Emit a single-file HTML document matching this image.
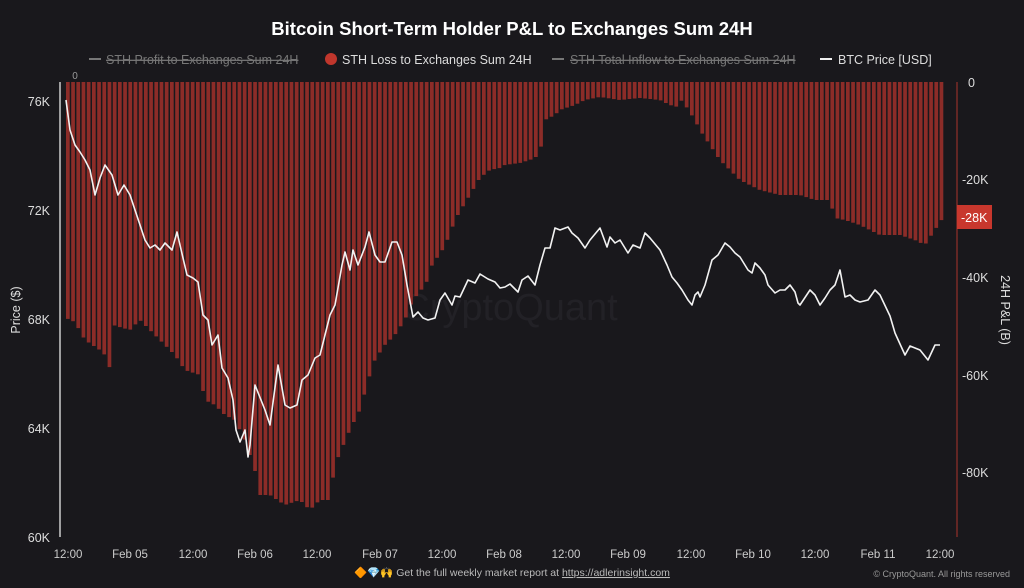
<!DOCTYPE html>
<html><head><meta charset="utf-8"><style>
html,body{margin:0;padding:0;background:#19181c;}
svg{display:block;font-family:"Liberation Sans",sans-serif;}
</style></head><body>
<svg id="s" width="1024" height="588" viewBox="0 0 1024 588" xmlns="http://www.w3.org/2000/svg">
<rect width="1024" height="588" fill="#19181c"/>
<text x="512" y="35" text-anchor="middle" fill="#fff" font-size="18.5" font-weight="bold">Bitcoin Short-Term Holder P&amp;L to Exchanges Sum 24H</text>
<g font-size="12.5">
<line x1="89" y1="59" x2="101" y2="59" stroke="#777" stroke-width="2"/>
<text x="106" y="64" fill="#777" text-decoration="line-through">STH Profit to Exchanges Sum 24H</text>
<circle cx="331" cy="59" r="6" fill="#c0362c"/>
<text x="342" y="64" fill="#ddd">STH Loss to Exchanges Sum 24H</text>
<line x1="552" y1="59" x2="564" y2="59" stroke="#777" stroke-width="2"/>
<text x="570" y="64" fill="#777" text-decoration="line-through">STH Total Inflow to Exchanges Sum 24H</text>
<line x1="820" y1="59" x2="832" y2="59" stroke="#eee" stroke-width="2"/>
<text x="838" y="64" fill="#ddd">BTC Price [USD]</text>
</g>
<text x="75" y="79" fill="#999" font-size="10" text-anchor="middle">0</text>
<text x="510" y="320" fill="#222126" font-size="38" text-anchor="middle">CryptoQuant</text>
<g id="bars"></g>
<line x1="60" y1="82" x2="60" y2="537" stroke="#ccc" stroke-width="1.5"/>
<line x1="957" y1="82" x2="957" y2="537" stroke="#7a2a26" stroke-width="1.5"/>
<g fill="#ddd" font-size="12.5" text-anchor="end">
<text x="50" y="106">76K</text><text x="50" y="215">72K</text><text x="50" y="324">68K</text><text x="50" y="433">64K</text><text x="50" y="542">60K</text>
</g>
<g fill="#ddd" font-size="12.5">
<text x="968" y="87">0</text><text x="962" y="184">-20K</text><text x="962" y="282">-40K</text><text x="962" y="380">-60K</text><text x="962" y="477">-80K</text>
</g>
<rect x="957" y="205" width="35" height="24" fill="#c8372d"/>
<text x="961" y="222" fill="#fff" font-size="12.5">-28K</text>
<text transform="translate(20,310) rotate(-90)" fill="#ddd" font-size="12.5" text-anchor="middle">Price ($)</text>
<text transform="translate(1001,310) rotate(90)" fill="#ddd" font-size="12.5" text-anchor="middle">24H P&amp;L (B)</text>
<g fill="#ccc" font-size="11.5" text-anchor="middle">
<text x="68" y="558">12:00</text><text x="130" y="558">Feb 05</text><text x="193" y="558">12:00</text><text x="255" y="558">Feb 06</text><text x="317" y="558">12:00</text><text x="380" y="558">Feb 07</text><text x="442" y="558">12:00</text><text x="504" y="558">Feb 08</text><text x="566" y="558">12:00</text><text x="628" y="558">Feb 09</text><text x="691" y="558">12:00</text><text x="753" y="558">Feb 10</text><text x="815" y="558">12:00</text><text x="878" y="558">Feb 11</text><text x="940" y="558">12:00</text>
</g>
<text x="512" y="576" fill="#bbb" font-size="10.5" text-anchor="middle">🔶💎🙌 Get the full weekly market report at <tspan text-decoration="underline">https://adlerinsight.com</tspan></text>
<text x="1010" y="577" fill="#999" font-size="9" text-anchor="end">© CryptoQuant. All rights reserved</text>
<polyline id="price" fill="none" stroke="#f2f2f2" stroke-width="1.6" stroke-linejoin="round"/>
</svg>
<script>
var bp=[[66,318],[75,322],[85,340],[100,350],[108,358],[111,375],[113,325],[130,330],[140,320],[150,330],[165,345],[175,355],[185,370],[200,375],[205,400],[215,405],[225,415],[235,420],[245,440],[255,470],[260,495],[270,495],[285,505],[300,500],[310,510],[320,500],[330,500],[335,465],[350,430],[360,410],[370,375],[375,360],[385,345],[395,335],[405,320],[413,300],[420,292],[428,280],[433,262],[440,255],[450,235],[455,220],[470,195],[480,178],[490,170],[500,168],[505,165],[520,163],[530,160],[540,155],[545,120],[555,115],[560,110],[575,105],[585,100],[600,97],[620,100],[640,98],[660,100],[670,105],[678,107],[682,100],[695,120],[700,130],[710,145],[720,160],[730,170],[740,180],[750,185],[760,190],[780,195],[800,195],[815,200],[830,200],[835,218],[845,220],[860,225],[880,235],[900,235],[915,240],[925,245],[935,230],[943,218]];
function interp(p,x){for(var i=1;i<p.length;i++){if(x<=p[i][0]){var a=p[i-1],b=p[i];return a[1]+(b[1]-a[1])*(x-a[0])/(b[0]-a[0]);}}return p[p.length-1][1];}
var g=document.getElementById('bars'),h='';
for(var i=0;i<169;i++){var x=66+i*5.2;if(x>944)break;var y=interp(bp,x+2);h+='<rect x="'+x.toFixed(1)+'" y="82" width="3.7" height="'+(y-82).toFixed(1)+'" fill="#8c2c28"/>';}
g.innerHTML=h;
var pp="66,100 70,130 75,145 80,152 85,160 90,170 95,195 100,178 105,165 112,175 118,195 124,185 130,195 135,210 140,225 145,240 150,248 155,245 160,250 165,243 172,250 177,232 183,258 187,275 193,278 198,282 203,315 208,320 212,345 218,335 222,368 228,378 233,400 236,430 240,442 245,430 248,457 250,445 255,385 265,410 270,425 278,365 285,405 290,408 297,405 302,380 308,375 315,358 320,355 325,335 330,315 335,305 342,265 345,252 350,270 353,250 358,265 365,247 369,232 375,255 380,262 385,262 392,242 397,242 402,255 407,285 413,317 418,312 423,318 428,320 435,318 440,300 445,293 452,305 455,296 460,297 468,280 475,283 480,274 488,279 495,282 500,288 505,287 510,284 518,292 522,280 528,276 535,285 540,265 545,248 550,248 555,228 560,230 568,227 572,233 578,238 585,248 590,240 600,228 607,247 610,237 615,243 620,240 628,253 633,245 640,248 645,233 650,238 660,250 667,265 672,277 677,283 682,290 688,300 692,305 695,295 698,292 700,297 705,285 712,260 718,255 725,243 730,247 735,253 740,257 748,270 752,273 755,263 760,268 765,275 768,285 775,293 780,290 785,290 790,285 795,292 798,303 800,305 810,290 815,295 820,305 825,298 830,290 835,285 840,270 845,297 850,295 855,300 860,302 868,300 875,290 880,295 890,316 895,333 905,355 910,346 920,350 928,360 935,345 940,345";
document.getElementById('price').setAttribute('points',pp);
</script>
</body></html>
